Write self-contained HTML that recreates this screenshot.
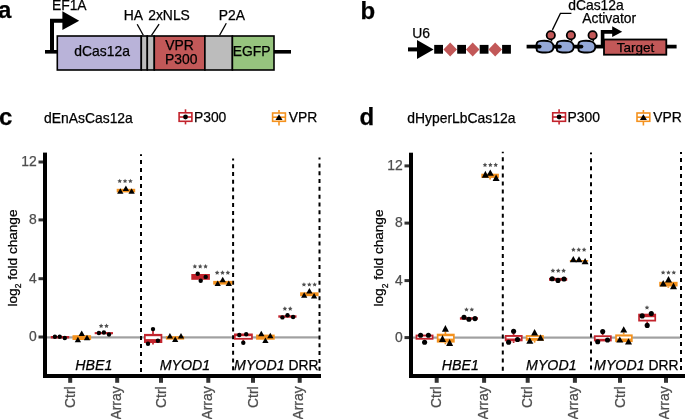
<!DOCTYPE html><html><head><meta charset="utf-8"><style>html,body{margin:0;padding:0;background:#fff;}svg{display:block;will-change:transform;font-family:"Liberation Sans",sans-serif;} text{stroke-width:0.25px;}</style></head><body>
<svg width="685" height="419" viewBox="0 0 685 419">
<text x="-2" y="18.2" font-size="24" fill="#000" text-anchor="start" font-weight="bold" stroke="#000">a</text>
<text x="51.9" y="9.6" font-size="13.9" fill="#000" text-anchor="start"  stroke="#000">EF1A</text>
<path d="M52 53 V20.8 H63" fill="none" stroke="#000" stroke-width="4"/>
<polygon points="62.4,11.3 79.2,20.8 62.4,30.1" fill="#000"/>
<rect x="45" y="50" width="246" height="3.6" fill="#000"/>
<rect x="57.3" y="36" width="84" height="34" fill="#b9b3d9" stroke="#000" stroke-width="1.6"/>
<rect x="141.3" y="36" width="6" height="34" fill="#bcbcbc" stroke="#000" stroke-width="1.6"/>
<rect x="147.3" y="36" width="7" height="34" fill="#bcbcbc" stroke="#000" stroke-width="1.6"/>
<rect x="154.3" y="36" width="50.6" height="34" fill="#c25858" stroke="#000" stroke-width="1.6"/>
<rect x="204.9" y="36" width="27.5" height="34" fill="#bcbcbc" stroke="#000" stroke-width="1.6"/>
<rect x="232.4" y="36" width="41.6" height="34" fill="#96c47e" stroke="#000" stroke-width="1.6"/>
<text x="74.3" y="56.1" font-size="13.9" fill="#000" text-anchor="start"  stroke="#000">dCas12a</text>
<text x="179.5" y="50" font-size="13.9" fill="#000" text-anchor="middle"  stroke="#000">VPR</text>
<text x="181.3" y="63.9" font-size="13.9" fill="#000" text-anchor="middle"  stroke="#000">P300</text>
<text x="251.6" y="56" font-size="13.9" fill="#000" text-anchor="middle"  stroke="#000">EGFP</text>
<text x="123.8" y="19.7" font-size="13.9" fill="#000" text-anchor="start"  stroke="#000">HA</text>
<text x="148.2" y="19.7" font-size="13.9" fill="#000" text-anchor="start"  stroke="#000">2xNLS</text>
<text x="218.7" y="19.7" font-size="13.9" fill="#000" text-anchor="start"  stroke="#000">P2A</text>
<line x1="137.2" y1="24.2" x2="143.3" y2="35.3" stroke="#000" stroke-width="1.3"/>
<line x1="159.1" y1="24.2" x2="151.5" y2="35.3" stroke="#000" stroke-width="1.3"/>
<line x1="226.3" y1="23.3" x2="219.6" y2="35.3" stroke="#000" stroke-width="1.3"/>
<text x="360.5" y="18.8" font-size="24" fill="#000" text-anchor="start" font-weight="bold" stroke="#000">b</text>
<text x="412.3" y="37.5" font-size="13.9" fill="#000" text-anchor="start"  stroke="#000">U6</text>
<rect x="408" y="47.4" width="10" height="4" fill="#000"/>
<polygon points="417,40.1 433.6,49.4 417,58.9" fill="#000"/>
<rect x="434.2" y="44.9" width="8.8" height="8.8" fill="#000"/>
<rect x="457.2" y="44.9" width="8.8" height="8.8" fill="#000"/>
<rect x="479.7" y="44.9" width="8.8" height="8.8" fill="#000"/>
<rect x="502.1" y="44.9" width="8.8" height="8.8" fill="#000"/>
<polygon points="443.4,49.4 450.2,42.4 457.0,49.4 450.2,56.4" fill="#c25858"/>
<polygon points="465.9,49.4 472.7,42.4 479.5,49.4 472.7,56.4" fill="#c25858"/>
<polygon points="488.4,49.4 495.2,42.4 502.0,49.4 495.2,56.4" fill="#c25858"/>
<rect x="526.6" y="44.75" width="150" height="3.7" fill="#000"/>
<path d="M536.60,44.5 C536.60,42 538.20,41.1 541.20,40.9 C544.70,40.7 547.70,40.6 549.70,41.5 C552.50,42.7 553.70,45 553.50,47.2 C553.30,50.6 550.20,52.5 545.70,52.5 C541.70,52.5 538.20,52.3 536.90,50.6 C536.60,49.6 536.60,47 536.60,44.5 Z" fill="#94a8d8" stroke="#000" stroke-width="1.9"/>
<line x1="535.70" y1="46.6" x2="539.70" y2="46.6" stroke="#000" stroke-width="3.7" stroke-linecap="round"/>
<path d="M556.80,44.5 C556.80,42 558.40,41.1 561.40,40.9 C564.90,40.7 567.90,40.6 569.90,41.5 C572.70,42.7 573.90,45 573.70,47.2 C573.50,50.6 570.40,52.5 565.90,52.5 C561.90,52.5 558.40,52.3 557.10,50.6 C556.80,49.6 556.80,47 556.80,44.5 Z" fill="#94a8d8" stroke="#000" stroke-width="1.9"/>
<line x1="555.90" y1="46.6" x2="559.90" y2="46.6" stroke="#000" stroke-width="3.7" stroke-linecap="round"/>
<path d="M578.40,44.5 C578.40,42 580.00,41.1 583.00,40.9 C586.50,40.7 589.50,40.6 591.50,41.5 C594.30,42.7 595.50,45 595.30,47.2 C595.10,50.6 592.00,52.5 587.50,52.5 C583.50,52.5 580.00,52.3 578.70,50.6 C578.40,49.6 578.40,47 578.40,44.5 Z" fill="#94a8d8" stroke="#000" stroke-width="1.9"/>
<line x1="577.50" y1="46.6" x2="581.50" y2="46.6" stroke="#000" stroke-width="3.7" stroke-linecap="round"/>
<line x1="551.0999999999999" y1="38" x2="551.5999999999999" y2="41.5" stroke="#000" stroke-width="1.6"/>
<circle cx="550.8" cy="35.2" r="4.15" fill="#c25858" stroke="#000" stroke-width="1.8"/>
<line x1="571.1999999999999" y1="38" x2="571.6999999999999" y2="41.5" stroke="#000" stroke-width="1.6"/>
<circle cx="570.9" cy="35.2" r="4.15" fill="#c25858" stroke="#000" stroke-width="1.8"/>
<line x1="592.9" y1="38" x2="593.4" y2="41.5" stroke="#000" stroke-width="1.6"/>
<circle cx="592.6" cy="35.2" r="4.15" fill="#c25858" stroke="#000" stroke-width="1.8"/>
<path d="M552.4,29.9 L560.4,13.4 H571.4" fill="none" stroke="#000" stroke-width="1.3"/>
<text x="568.2" y="10" font-size="13.9" fill="#000" text-anchor="start"  stroke="#000">dCas12a</text>
<text x="582.2" y="23.4" font-size="13.9" fill="#000" text-anchor="start"  stroke="#000">Activator</text>
<path d="M602.6,46 V31.9 H613" fill="none" stroke="#000" stroke-width="3.6"/>
<polygon points="612.2,26.2 622.2,31.8 612.2,37.0" fill="#000"/>
<rect x="604" y="39.5" width="62.3" height="15.2" fill="#c25858" stroke="#000" stroke-width="1.8"/>
<text x="635.5" y="51.6" font-size="13.5" fill="#000" text-anchor="middle"  stroke="#000">Target</text>
<rect x="47" y="336.3" width="272" height="2.2" fill="#a0a0a0"/>
<line x1="141" y1="154.3" x2="141" y2="373" stroke="#000" stroke-width="2" stroke-dasharray="4.1 3.90" stroke-dashoffset="2.30"/>
<line x1="233.1" y1="158.6" x2="233.1" y2="373" stroke="#000" stroke-width="2" stroke-dasharray="4 3.77" stroke-dashoffset="2.10"/>
<line x1="319.5" y1="157.6" x2="319.5" y2="373" stroke="#000" stroke-width="2" stroke-dasharray="4 3.82" stroke-dashoffset="2.02"/>
<rect x="43" y="152.6" width="4" height="225.4" fill="#000"/>
<rect x="43" y="374" width="278" height="4" fill="#000"/>
<rect x="38.5" y="160.5" width="4.5" height="3" fill="#333333"/>
<text x="36.8" y="165.9" font-size="13.9" fill="#4d4d4d" text-anchor="end"  stroke="#4d4d4d">12</text>
<rect x="38.5" y="218.4" width="4.5" height="3" fill="#333333"/>
<text x="36.8" y="223.8" font-size="13.9" fill="#4d4d4d" text-anchor="end"  stroke="#4d4d4d">8</text>
<rect x="38.5" y="277.2" width="4.5" height="3" fill="#333333"/>
<text x="36.8" y="282.59999999999997" font-size="13.9" fill="#4d4d4d" text-anchor="end"  stroke="#4d4d4d">4</text>
<rect x="38.5" y="335.5" width="4.5" height="3" fill="#333333"/>
<text x="36.8" y="340.9" font-size="13.9" fill="#4d4d4d" text-anchor="end"  stroke="#4d4d4d">0</text>
<rect x="68.2" y="378" width="4" height="4.8" fill="#333333"/>
<text transform="translate(74.80,386.4) rotate(-90)" font-size="13.9" fill="#4d4d4d" text-anchor="end" stroke="#4d4d4d">Ctrl</text>
<rect x="115.2" y="378" width="4" height="4.8" fill="#333333"/>
<text transform="translate(120.60,386.4) rotate(-90)" font-size="13.9" fill="#4d4d4d" text-anchor="end" stroke="#4d4d4d">Array</text>
<rect x="159" y="378" width="4" height="4.8" fill="#333333"/>
<text transform="translate(165.60,386.4) rotate(-90)" font-size="13.9" fill="#4d4d4d" text-anchor="end" stroke="#4d4d4d">Ctrl</text>
<rect x="206.3" y="378" width="4" height="4.8" fill="#333333"/>
<text transform="translate(211.70,386.4) rotate(-90)" font-size="13.9" fill="#4d4d4d" text-anchor="end" stroke="#4d4d4d">Array</text>
<rect x="251" y="378" width="4" height="4.8" fill="#333333"/>
<text transform="translate(257.60,386.4) rotate(-90)" font-size="13.9" fill="#4d4d4d" text-anchor="end" stroke="#4d4d4d">Ctrl</text>
<rect x="297.7" y="378" width="4" height="4.8" fill="#333333"/>
<text transform="translate(303.10,386.4) rotate(-90)" font-size="13.9" fill="#4d4d4d" text-anchor="end" stroke="#4d4d4d">Array</text>
<text x="93.8" y="370.2" font-size="13.9" text-anchor="middle" stroke="#000"><tspan font-style="italic" font-size="14.2">HBE1</tspan></text>
<text x="184.9" y="370.2" font-size="13.9" text-anchor="middle" stroke="#000"><tspan font-style="italic" font-size="14.2">MYOD1</tspan></text>
<text x="276.3" y="370.2" font-size="13.9" text-anchor="middle" stroke="#000"><tspan font-style="italic" font-size="14.2">MYOD1</tspan> DRR</text>
<text transform="translate(16.8,306.5) rotate(-90)" font-size="13.6" fill="#000" stroke="#000">log<tspan font-size="8.6" dy="4.2">2</tspan><tspan dy="-4.2"> fold change</tspan></text>
<text x="-1" y="124.5" font-size="24" fill="#000" text-anchor="start" font-weight="bold" stroke="#000">c</text>
<text x="44" y="123" font-size="13.9" fill="#000" text-anchor="start"  stroke="#000">dEnAsCas12a</text>
<line x1="185.5" y1="109.3" x2="185.5" y2="124.4" stroke="#c2242d" stroke-width="1.6"/>
<rect x="179.1" y="112.8" width="12.8" height="8.5" fill="#fff" stroke="#c2242d" stroke-width="1.6"/>
<line x1="179.1" y1="117" x2="191.9" y2="117" stroke="#c2242d" stroke-width="1.6"/>
<circle cx="185.5" cy="117" r="2.4" fill="#000"/>
<text x="193.9" y="121.7" font-size="13.9" fill="#000" text-anchor="start"  stroke="#000">P300</text>
<line x1="279" y1="110" x2="279" y2="125.5" stroke="#f4921e" stroke-width="1.6"/>
<rect x="272.6" y="113" width="12.8" height="8.3" fill="#fff" stroke="#f4921e" stroke-width="1.6"/>
<line x1="272.6" y1="117.2" x2="285.4" y2="117.2" stroke="#f4921e" stroke-width="1.6"/>
<polygon points="275.50,119.90 282.50,119.90 279.00,114.20" fill="#000"/>
<text x="288.8" y="121.7" font-size="13.9" fill="#000" text-anchor="start"  stroke="#000">VPR</text>
<rect x="50.8" y="336" width="18.40" height="2.50" fill="#c2242d"/>
<circle cx="54.9" cy="336.8" r="2.2" fill="#000"/>
<circle cx="59.7" cy="336.7" r="2.2" fill="#000"/>
<circle cx="64.8" cy="338" r="2.2" fill="#000"/>
<rect x="72.5" y="335.2" width="18.60" height="4.80" fill="#f4921e"/>
<polygon points="78.55,335.88 84.85,335.88 81.70,330.42" fill="#000"/>
<polygon points="74.75,342.13 81.05,342.13 77.90,336.67" fill="#000"/>
<polygon points="83.85,340.13 90.15,340.13 87.00,334.67" fill="#000"/>
<rect x="94.7" y="332.1" width="18.30" height="2.10" fill="#c2242d"/>
<circle cx="98.9" cy="333" r="2.2" fill="#000"/>
<circle cx="103.9" cy="332.5" r="2.2" fill="#000"/>
<circle cx="109" cy="334.5" r="2.2" fill="#000"/>
<polygon points="101.13,323.57 101.85,325.03 103.46,325.26 102.29,326.40 102.57,328.00 101.13,327.24 99.68,328.00 99.96,326.40 98.79,325.26 100.40,325.03" fill="#505050"/>
<polygon points="106.48,323.57 107.20,325.03 108.81,325.26 107.64,326.40 107.92,328.00 106.48,327.24 105.03,328.00 105.31,326.40 104.14,325.26 105.75,325.03" fill="#505050"/>
<rect x="116.7" y="188.8" width="18.50" height="3.60" fill="#f4921e"/>
<polygon points="117.15,193.83 123.45,193.83 120.30,188.37" fill="#000"/>
<polygon points="122.75,191.03 129.05,191.03 125.90,185.57" fill="#000"/>
<polygon points="128.45,193.83 134.75,193.83 131.60,188.37" fill="#000"/>
<polygon points="119.70,178.67 120.42,180.13 122.03,180.36 120.87,181.50 121.14,183.10 119.70,182.34 118.26,183.10 118.53,181.50 117.37,180.36 118.98,180.13" fill="#505050"/>
<polygon points="125.05,178.67 125.77,180.13 127.38,180.36 126.22,181.50 126.49,183.10 125.05,182.34 123.61,183.10 123.88,181.50 122.72,180.36 124.33,180.13" fill="#505050"/>
<polygon points="130.40,178.67 131.12,180.13 132.73,180.36 131.57,181.50 131.84,183.10 130.40,182.34 128.96,183.10 129.23,181.50 128.07,180.36 129.68,180.13" fill="#505050"/>
<line x1="153" y1="329.1" x2="153" y2="334" stroke="#c2242d" stroke-width="1.7"/>
<line x1="153" y1="343" x2="153" y2="344.5" stroke="#c2242d" stroke-width="1.7"/>
<rect x="144" y="333.9" width="18.30" height="9.10" fill="#c2242d"/>
<rect x="145.7" y="336.2" width="14.90" height="2.90" fill="#fff"/>
<circle cx="153" cy="329.1" r="2.2" fill="#000"/>
<circle cx="148" cy="343.7" r="2.2" fill="#000"/>
<circle cx="157.9" cy="340.8" r="2.2" fill="#000"/>
<rect x="165.9" y="336.2" width="18.30" height="3.40" fill="#f4921e"/>
<polygon points="166.75,338.53 173.05,338.53 169.90,333.07" fill="#000"/>
<polygon points="172.05,342.03 178.35,342.03 175.20,336.57" fill="#000"/>
<polygon points="177.85,338.53 184.15,338.53 181.00,333.07" fill="#000"/>
<rect x="191.3" y="274" width="18.60" height="5.80" fill="#c2242d"/>
<circle cx="197.7" cy="273.8" r="2.2" fill="#000"/>
<circle cx="205.7" cy="276.9" r="2.2" fill="#000"/>
<circle cx="200.7" cy="280.7" r="2.2" fill="#000"/>
<polygon points="194.85,263.97 195.57,265.43 197.18,265.66 196.02,266.80 196.29,268.40 194.85,267.64 193.41,268.40 193.68,266.80 192.52,265.66 194.13,265.43" fill="#505050"/>
<polygon points="200.20,263.97 200.92,265.43 202.53,265.66 201.37,266.80 201.64,268.40 200.20,267.64 198.76,268.40 199.03,266.80 197.87,265.66 199.48,265.43" fill="#505050"/>
<polygon points="205.55,263.97 206.27,265.43 207.88,265.66 206.72,266.80 206.99,268.40 205.55,267.64 204.11,268.40 204.38,266.80 203.22,265.66 204.83,265.43" fill="#505050"/>
<rect x="213.2" y="280.9" width="19.00" height="3.70" fill="#f4921e"/>
<polygon points="214.55,286.03 220.85,286.03 217.70,280.57" fill="#000"/>
<polygon points="219.55,282.13 225.85,282.13 222.70,276.67" fill="#000"/>
<polygon points="225.65,286.03 231.95,286.03 228.80,280.57" fill="#000"/>
<polygon points="217.15,270.37 217.87,271.83 219.48,272.06 218.32,273.20 218.59,274.80 217.15,274.04 215.71,274.80 215.98,273.20 214.82,272.06 216.43,271.83" fill="#505050"/>
<polygon points="222.50,270.37 223.22,271.83 224.83,272.06 223.67,273.20 223.94,274.80 222.50,274.04 221.06,274.80 221.33,273.20 220.17,272.06 221.78,271.83" fill="#505050"/>
<polygon points="227.85,270.37 228.57,271.83 230.18,272.06 229.02,273.20 229.29,274.80 227.85,274.04 226.41,274.80 226.68,273.20 225.52,272.06 227.13,271.83" fill="#505050"/>
<line x1="243.3" y1="339.7" x2="243.3" y2="342.8" stroke="#c2242d" stroke-width="1.7"/>
<rect x="234" y="333.5" width="18.80" height="6.20" fill="#c2242d"/>
<rect x="235.7" y="336.2" width="15.40" height="1.70" fill="#fff"/>
<circle cx="239.3" cy="335" r="2.2" fill="#000"/>
<circle cx="246.2" cy="334.2" r="2.2" fill="#000"/>
<circle cx="243.3" cy="342.8" r="2.2" fill="#000"/>
<rect x="256.1" y="334.6" width="18.60" height="5.10" fill="#f4921e"/>
<polygon points="258.15,336.18 264.45,336.18 261.30,330.72" fill="#000"/>
<polygon points="262.25,343.03 268.55,343.03 265.40,337.57" fill="#000"/>
<polygon points="267.15,338.33 273.45,338.33 270.30,332.87" fill="#000"/>
<rect x="278.3" y="315.3" width="18.20" height="2.40" fill="#c2242d"/>
<circle cx="282.4" cy="317.4" r="2.2" fill="#000"/>
<circle cx="287.5" cy="315.3" r="2.2" fill="#000"/>
<circle cx="293.1" cy="317" r="2.2" fill="#000"/>
<polygon points="284.88,306.27 285.60,307.73 287.21,307.96 286.04,309.10 286.32,310.70 284.88,309.94 283.43,310.70 283.71,309.10 282.54,307.96 284.15,307.73" fill="#505050"/>
<polygon points="290.23,306.27 290.95,307.73 292.56,307.96 291.39,309.10 291.67,310.70 290.23,309.94 288.78,310.70 289.06,309.10 287.89,307.96 289.50,307.73" fill="#505050"/>
<rect x="300.1" y="292.3" width="18.50" height="3.90" fill="#f4921e"/>
<polygon points="301.05,297.83 307.35,297.83 304.20,292.37" fill="#000"/>
<polygon points="306.25,293.48 312.55,293.48 309.40,288.02" fill="#000"/>
<polygon points="310.95,298.48 317.25,298.48 314.10,293.02" fill="#000"/>
<polygon points="303.95,282.17 304.67,283.63 306.28,283.86 305.12,285.00 305.39,286.60 303.95,285.84 302.51,286.60 302.78,285.00 301.62,283.86 303.23,283.63" fill="#505050"/>
<polygon points="309.30,282.17 310.02,283.63 311.63,283.86 310.47,285.00 310.74,286.60 309.30,285.84 307.86,286.60 308.13,285.00 306.97,283.86 308.58,283.63" fill="#505050"/>
<polygon points="314.65,282.17 315.37,283.63 316.98,283.86 315.82,285.00 316.09,286.60 314.65,285.84 313.21,286.60 313.48,285.00 312.32,283.86 313.93,283.63" fill="#505050"/>
<rect x="413" y="336.5" width="267" height="2.2" fill="#a0a0a0"/>
<line x1="502.8" y1="151.7" x2="502.8" y2="373" stroke="#000" stroke-width="2" stroke-dasharray="4 4.05" stroke-dashoffset="2.40"/>
<line x1="591" y1="152.6" x2="591" y2="373" stroke="#000" stroke-width="2" stroke-dasharray="4 3.97" stroke-dashoffset="2.30"/>
<line x1="681" y1="152.1" x2="681" y2="373" stroke="#000" stroke-width="2" stroke-dasharray="4 4.00" stroke-dashoffset="2.20"/>
<rect x="409" y="152.7" width="4" height="225.3" fill="#000"/>
<rect x="409" y="374" width="276" height="4" fill="#000"/>
<rect x="404.5" y="164.4" width="4.5" height="3" fill="#333333"/>
<text x="402.8" y="169.8" font-size="13.9" fill="#4d4d4d" text-anchor="end"  stroke="#4d4d4d">12</text>
<rect x="404.5" y="221.6" width="4.5" height="3" fill="#333333"/>
<text x="402.8" y="227.0" font-size="13.9" fill="#4d4d4d" text-anchor="end"  stroke="#4d4d4d">8</text>
<rect x="404.5" y="279.1" width="4.5" height="3" fill="#333333"/>
<text x="402.8" y="284.5" font-size="13.9" fill="#4d4d4d" text-anchor="end"  stroke="#4d4d4d">4</text>
<rect x="404.5" y="336.1" width="4.5" height="3" fill="#333333"/>
<text x="402.8" y="341.5" font-size="13.9" fill="#4d4d4d" text-anchor="end"  stroke="#4d4d4d">0</text>
<rect x="434.7" y="378" width="4" height="4.8" fill="#333333"/>
<text transform="translate(441.30,386.4) rotate(-90)" font-size="13.9" fill="#4d4d4d" text-anchor="end" stroke="#4d4d4d">Ctrl</text>
<rect x="482.1" y="378" width="4" height="4.8" fill="#333333"/>
<text transform="translate(487.50,386.4) rotate(-90)" font-size="13.9" fill="#4d4d4d" text-anchor="end" stroke="#4d4d4d">Array</text>
<rect x="525.7" y="378" width="4" height="4.8" fill="#333333"/>
<text transform="translate(532.30,386.4) rotate(-90)" font-size="13.9" fill="#4d4d4d" text-anchor="end" stroke="#4d4d4d">Ctrl</text>
<rect x="572.9" y="378" width="4" height="4.8" fill="#333333"/>
<text transform="translate(578.30,386.4) rotate(-90)" font-size="13.9" fill="#4d4d4d" text-anchor="end" stroke="#4d4d4d">Array</text>
<rect x="618" y="378" width="4" height="4.8" fill="#333333"/>
<text transform="translate(624.60,386.4) rotate(-90)" font-size="13.9" fill="#4d4d4d" text-anchor="end" stroke="#4d4d4d">Ctrl</text>
<rect x="664" y="378" width="4" height="4.8" fill="#333333"/>
<text transform="translate(669.40,386.4) rotate(-90)" font-size="13.9" fill="#4d4d4d" text-anchor="end" stroke="#4d4d4d">Array</text>
<text x="460.3" y="370.2" font-size="13.9" text-anchor="middle" stroke="#000"><tspan font-style="italic" font-size="14.2">HBE1</tspan></text>
<text x="551.3" y="370.2" font-size="13.9" text-anchor="middle" stroke="#000"><tspan font-style="italic" font-size="14.2">MYOD1</tspan></text>
<text x="636.3" y="370.2" font-size="13.9" text-anchor="middle" stroke="#000"><tspan font-style="italic" font-size="14.2">MYOD1</tspan> DRR</text>
<text transform="translate(383.4,306.5) rotate(-90)" font-size="13.6" fill="#000" stroke="#000">log<tspan font-size="8.6" dy="4.2">2</tspan><tspan dy="-4.2"> fold change</tspan></text>
<text x="359.5" y="124.5" font-size="24" fill="#000" text-anchor="start" font-weight="bold" stroke="#000">d</text>
<text x="407.3" y="123" font-size="13.9" fill="#000" text-anchor="start"  stroke="#000">dHyperLbCas12a</text>
<line x1="559.1" y1="109.3" x2="559.1" y2="124.4" stroke="#c2242d" stroke-width="1.6"/>
<rect x="552.7" y="112.8" width="12.8" height="8.5" fill="#fff" stroke="#c2242d" stroke-width="1.6"/>
<line x1="552.7" y1="117" x2="565.5" y2="117" stroke="#c2242d" stroke-width="1.6"/>
<circle cx="559.1" cy="117" r="2.4" fill="#000"/>
<text x="567.5" y="121.7" font-size="13.9" fill="#000" text-anchor="start"  stroke="#000">P300</text>
<line x1="643.4" y1="110" x2="643.4" y2="125.5" stroke="#f4921e" stroke-width="1.6"/>
<rect x="637.0" y="113" width="12.8" height="8.3" fill="#fff" stroke="#f4921e" stroke-width="1.6"/>
<line x1="637.0" y1="117.2" x2="649.8" y2="117.2" stroke="#f4921e" stroke-width="1.6"/>
<polygon points="639.90,119.90 646.90,119.90 643.40,114.20" fill="#000"/>
<text x="653.1999999999999" y="121.7" font-size="13.9" fill="#000" text-anchor="start"  stroke="#000">VPR</text>
<rect x="415.6" y="334.6" width="17.90" height="5.10" fill="#c2242d"/>
<rect x="417.3" y="336.5" width="14.50" height="1.40" fill="#fff"/>
<circle cx="420.6" cy="335.3" r="2.55" fill="#000"/>
<circle cx="428.4" cy="335.3" r="2.55" fill="#000"/>
<circle cx="424.6" cy="342.3" r="2.55" fill="#000"/>
<line x1="445.4" y1="331.5" x2="445.4" y2="334" stroke="#f4921e" stroke-width="1.7"/>
<line x1="445.4" y1="342.6" x2="445.4" y2="344.3" stroke="#f4921e" stroke-width="1.7"/>
<rect x="436.8" y="333.7" width="17.90" height="8.90" fill="#f4921e"/>
<rect x="438.5" y="336.2" width="14.50" height="2.40" fill="#fff"/>
<polygon points="441.90,331.80 448.90,331.80 445.40,325.10" fill="#000"/>
<polygon points="439.00,341.90 446.00,341.90 442.50,335.00" fill="#000"/>
<polygon points="446.10,345.90 453.10,345.90 449.60,339.10" fill="#000"/>
<rect x="459.9" y="317.2" width="18.00" height="2.50" fill="#c2242d"/>
<circle cx="464" cy="317.2" r="2.55" fill="#000"/>
<circle cx="468.9" cy="319.3" r="2.55" fill="#000"/>
<circle cx="475" cy="318.6" r="2.55" fill="#000"/>
<polygon points="466.47,307.17 467.20,308.63 468.81,308.86 467.64,310.00 467.92,311.60 466.47,310.84 465.03,311.60 465.31,310.00 464.14,308.86 465.75,308.63" fill="#505050"/>
<polygon points="471.82,307.17 472.55,308.63 474.16,308.86 472.99,310.00 473.27,311.60 471.82,310.84 470.38,311.60 470.66,310.00 469.49,308.86 471.10,308.63" fill="#505050"/>
<line x1="490.1" y1="177.9" x2="490.1" y2="179.6" stroke="#f4921e" stroke-width="1.7"/>
<rect x="481.3" y="173.7" width="17.60" height="4.20" fill="#f4921e"/>
<polygon points="481.90,177.70 488.90,177.70 485.40,170.80" fill="#000"/>
<polygon points="486.80,175.80 493.80,175.80 490.30,169.60" fill="#000"/>
<polygon points="492.60,181.00 499.60,181.00 496.10,174.60" fill="#000"/>
<polygon points="485.00,162.47 485.72,163.93 487.33,164.16 486.17,165.30 486.44,166.90 485.00,166.14 483.56,166.90 483.83,165.30 482.67,164.16 484.28,163.93" fill="#505050"/>
<polygon points="490.35,162.47 491.07,163.93 492.68,164.16 491.52,165.30 491.79,166.90 490.35,166.14 488.91,166.90 489.18,165.30 488.02,164.16 489.63,163.93" fill="#505050"/>
<polygon points="495.70,162.47 496.42,163.93 498.03,164.16 496.87,165.30 497.14,166.90 495.70,166.14 494.26,166.90 494.53,165.30 493.37,164.16 494.98,163.93" fill="#505050"/>
<line x1="513.6" y1="331.2" x2="513.6" y2="335" stroke="#c2242d" stroke-width="1.7"/>
<line x1="513.6" y1="341.3" x2="513.6" y2="343" stroke="#c2242d" stroke-width="1.7"/>
<rect x="504.8" y="335" width="17.80" height="6.30" fill="#c2242d"/>
<rect x="506.5" y="336.9" width="14.40" height="1.60" fill="#fff"/>
<circle cx="513.6" cy="331.2" r="2.55" fill="#000"/>
<circle cx="508.6" cy="342.3" r="2.55" fill="#000"/>
<circle cx="517.5" cy="339.5" r="2.55" fill="#000"/>
<line x1="534.6" y1="340.8" x2="534.6" y2="342.6" stroke="#f4921e" stroke-width="1.7"/>
<rect x="525.8" y="335.1" width="18.00" height="5.70" fill="#f4921e"/>
<rect x="527.5" y="336.9" width="14.60" height="1.00" fill="#fff"/>
<polygon points="531.10,335.60 538.10,335.60 534.60,329.00" fill="#000"/>
<polygon points="526.30,343.70 533.30,343.70 529.80,337.30" fill="#000"/>
<polygon points="537.00,340.80 544.00,340.80 540.50,334.30" fill="#000"/>
<rect x="549" y="277.9" width="18.20" height="2.90" fill="#c2242d"/>
<circle cx="552.2" cy="278.7" r="2.55" fill="#000"/>
<circle cx="558" cy="280.4" r="2.55" fill="#000"/>
<circle cx="564" cy="279" r="2.55" fill="#000"/>
<polygon points="552.90,268.37 553.62,269.83 555.23,270.06 554.07,271.20 554.34,272.80 552.90,272.04 551.46,272.80 551.73,271.20 550.57,270.06 552.18,269.83" fill="#505050"/>
<polygon points="558.25,268.37 558.97,269.83 560.58,270.06 559.42,271.20 559.69,272.80 558.25,272.04 556.81,272.80 557.08,271.20 555.92,270.06 557.53,269.83" fill="#505050"/>
<polygon points="563.60,268.37 564.32,269.83 565.93,270.06 564.77,271.20 565.04,272.80 563.60,272.04 562.16,272.80 562.43,271.20 561.27,270.06 562.88,269.83" fill="#505050"/>
<rect x="569.8" y="260" width="18.40" height="1.70" fill="#f4921e"/>
<polygon points="569.80,262.30 576.80,262.30 573.30,256.00" fill="#000"/>
<polygon points="575.50,262.30 582.50,262.30 579.00,256.20" fill="#000"/>
<polygon points="581.60,264.30 588.60,264.30 585.10,257.90" fill="#000"/>
<polygon points="573.40,247.27 574.12,248.73 575.73,248.96 574.57,250.10 574.84,251.70 573.40,250.94 571.96,251.70 572.23,250.10 571.07,248.96 572.68,248.73" fill="#505050"/>
<polygon points="578.75,247.27 579.47,248.73 581.08,248.96 579.92,250.10 580.19,251.70 578.75,250.94 577.31,251.70 577.58,250.10 576.42,248.96 578.03,248.73" fill="#505050"/>
<polygon points="584.10,247.27 584.82,248.73 586.43,248.96 585.27,250.10 585.54,251.70 584.10,250.94 582.66,251.70 582.93,250.10 581.77,248.96 583.38,248.73" fill="#505050"/>
<line x1="602.7" y1="331.6" x2="602.7" y2="335.3" stroke="#c2242d" stroke-width="1.7"/>
<rect x="593.9" y="335.3" width="17.80" height="6.10" fill="#c2242d"/>
<rect x="595.6" y="337.1" width="14.40" height="1.70" fill="#fff"/>
<circle cx="602.7" cy="331.6" r="2.55" fill="#000"/>
<circle cx="597.7" cy="341.7" r="2.55" fill="#000"/>
<circle cx="607.5" cy="340" r="2.55" fill="#000"/>
<line x1="623.7" y1="332.5" x2="623.7" y2="334.4" stroke="#f4921e" stroke-width="1.7"/>
<rect x="615.2" y="334.4" width="17.50" height="7.70" fill="#f4921e"/>
<rect x="616.9000000000001" y="336.5" width="14.10" height="2.00" fill="#fff"/>
<polygon points="620.20,332.50 627.20,332.50 623.70,326.20" fill="#000"/>
<polygon points="616.30,342.60 623.30,342.60 619.80,336.50" fill="#000"/>
<polygon points="625.00,344.60 632.00,344.60 628.50,338.20" fill="#000"/>
<line x1="647.2" y1="321.5" x2="647.2" y2="325.4" stroke="#c2242d" stroke-width="1.7"/>
<rect x="638.2" y="313.7" width="17.90" height="7.80" fill="#c2242d"/>
<rect x="639.9000000000001" y="317.2" width="14.50" height="2.50" fill="#fff"/>
<circle cx="642.2" cy="315.9" r="2.55" fill="#000"/>
<circle cx="651.3" cy="313.6" r="2.55" fill="#000"/>
<circle cx="647.2" cy="325.4" r="2.55" fill="#000"/>
<polygon points="647.00,305.17 647.72,306.63 649.33,306.86 648.17,308.00 648.44,309.60 647.00,308.84 645.56,309.60 645.83,308.00 644.67,306.86 646.28,306.63" fill="#505050"/>
<line x1="668.3" y1="286.5" x2="668.3" y2="287.8" stroke="#f4921e" stroke-width="1.7"/>
<rect x="659.2" y="281.8" width="18.40" height="4.70" fill="#f4921e"/>
<polygon points="659.70,286.60 666.70,286.60 663.20,280.00" fill="#000"/>
<polygon points="665.00,282.50 672.00,282.50 668.50,276.10" fill="#000"/>
<polygon points="670.00,289.20 677.00,289.20 673.50,282.50" fill="#000"/>
<polygon points="663.10,270.17 663.82,271.63 665.43,271.86 664.27,273.00 664.54,274.60 663.10,273.84 661.66,274.60 661.93,273.00 660.77,271.86 662.38,271.63" fill="#505050"/>
<polygon points="668.45,270.17 669.17,271.63 670.78,271.86 669.62,273.00 669.89,274.60 668.45,273.84 667.01,274.60 667.28,273.00 666.12,271.86 667.73,271.63" fill="#505050"/>
<polygon points="673.80,270.17 674.52,271.63 676.13,271.86 674.97,273.00 675.24,274.60 673.80,273.84 672.36,274.60 672.63,273.00 671.47,271.86 673.08,271.63" fill="#505050"/>
</svg></body></html>
